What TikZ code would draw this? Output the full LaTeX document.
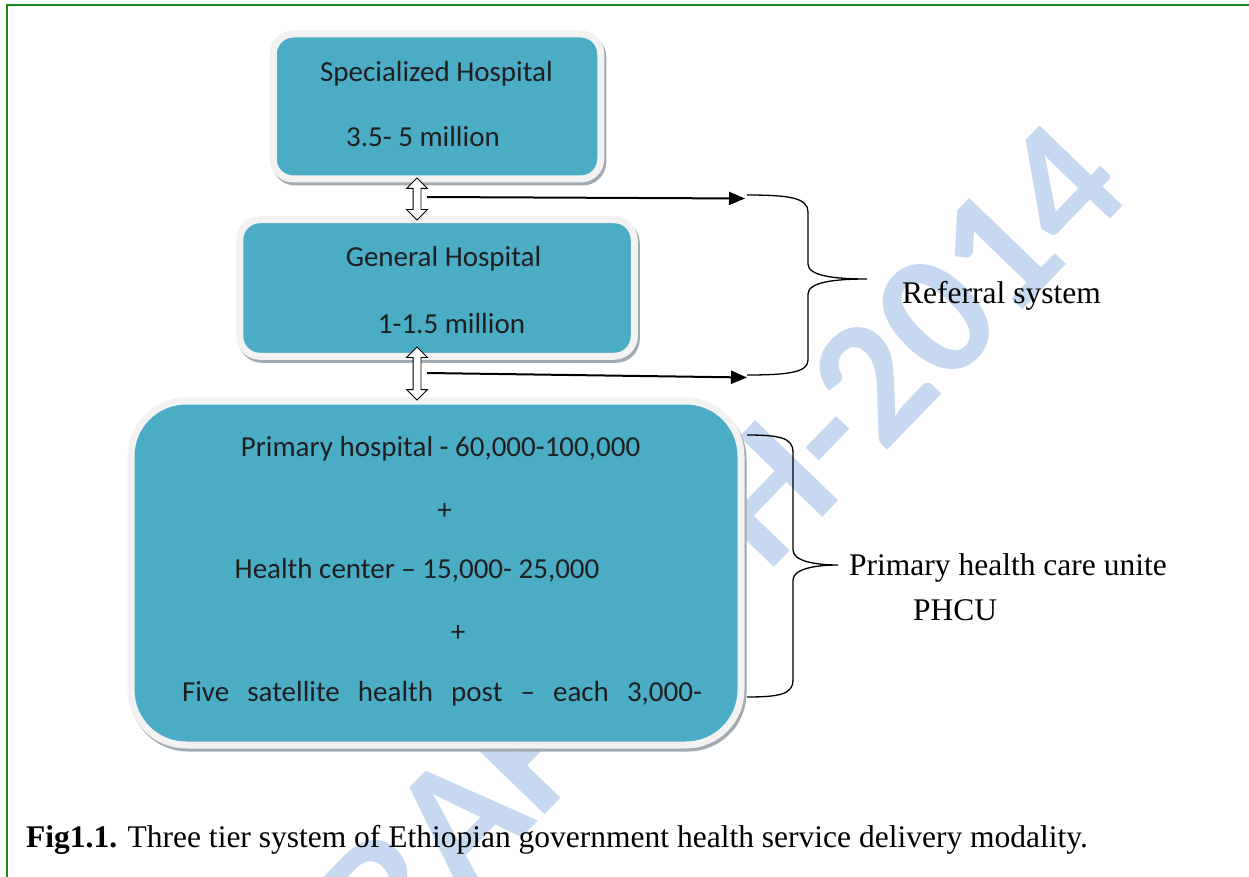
\documentclass[tikz,border=0pt]{standalone}
\usepackage{fontspec}
\setmainfont{Liberation Serif}
\newfontfamily\boxfont{Carlito}
\usepackage{tikz}
\usetikzlibrary{shapes.arrows,shadows,arrows.meta}

\definecolor{tierfill}{RGB}{75,172,198}
\definecolor{tierrim}{RGB}{242,242,242}
\definecolor{tiershade}{RGB}{160,170,176}
\definecolor{framegreen}{RGB}{24,138,24}
\definecolor{stamp}{RGB}{198,217,240}

\begin{document}
\begin{tikzpicture}[x=1pt, y=-1pt,
  tier/.style={draw=tierrim, line width=7pt, fill=tierfill, rounded corners=20pt,
    drop shadow={shadow xshift=2pt, shadow yshift=-3pt, opacity=1,
      fill=tiershade, draw=tiershade, line width=7pt}},
  tiertext/.style={font=\boxfont\fontsize{29}{35}\selectfont, text=black!88, inner sep=0pt},
  updown/.style={double arrow, draw=black, line width=0.8pt, fill=white,
    rotate=90, inner sep=3.5pt, double arrow head extend=6.5pt, minimum width=20pt},
  feed/.style={-{Triangle[length=16pt,width=13pt]}, line width=2pt},
  bracket/.style={line width=1.3pt},
  sidetext/.style={font=\fontsize{31.5}{38}\selectfont, inner sep=0pt},
  stamptext/.style={font=\boxfont\bfseries\fontsize{178}{178}\selectfont,
    text=stamp, inner sep=0pt, rotate=46}]

  \useasboundingbox (0,0) rectangle (1249,877);
  \fill[white] (0,0) rectangle (1249,877);
  \draw[framegreen, line width=2pt] (6.5,877) -- (6.5,5.5) -- (1249,5.5);

  % watermark
  \node[stamptext] (wmlow) at (445,835) {DRAFT};
  \node[stamptext] (wmhigh) at (869,386) {UH-2014};

  % the three tiers
  \node[tier, minimum width=327.5pt, minimum height=145pt] (spec) at (437,106.5) {};
  \node[tier, minimum width=394.5pt, minimum height=136.5pt] (gen) at (437,288) {};
  \node[tier, rounded corners=55pt, minimum width=610pt, minimum height=344pt] (phc) at (436,573) {};

  \node[tiertext, anchor=base] (spectitle) at (436.5,81.7) {Specialized Hospital};
  \node[tiertext, anchor=base] (specpop) at (423,146.7) {3.5- 5 million};
  \node[tiertext, anchor=base] (gentitle) at (443.5,266.7) {General Hospital};
  \node[tiertext, anchor=base] (genpop) at (451.5,333.3) {1-1.5 million};

  \node[tiertext, anchor=base] (primhosp) at (440.5,456.7) {Primary hospital - 60,000-100,000};
  \node[tiertext] (plusa) at (444.5,512) {+};
  \node[tiertext, anchor=base] (hcenter) at (417,578) {Health center – 15,000- 25,000};
  \node[tiertext] (plusb) at (458,634) {+};
  \node[tiertext, anchor=base] (hpost) at (442,701.7)
    {\makebox[520pt][s]{Five satellite health post – each 3,000-}};

  % referral arrows
  \node[updown, minimum height=42pt] (ud1) at (417,199) {};
  \node[updown, minimum height=53pt] (ud2) at (417,373.5) {};
  \coordinate (refin) at (745,198.5);
  \coordinate (refout) at (747,377.5);
  \draw[feed] ([xshift=10pt,yshift=2pt]ud1.center) -- (refin);
  \draw[feed] ([xshift=10pt,yshift=0.5pt]ud2.center) -- (refout);

  % braces
  \draw[bracket] (747,195) .. controls (790,195) and (808,198) .. (808,212)
    -- (808,264) .. controls (808,276) and (835,279) .. (867,279)
    .. controls (835,279) and (808,282) .. (808,294)
    -- (808,360) .. controls (808,372) and (790,375) .. (747,375);
  \draw[bracket] (747,435) .. controls (780,435) and (793,438) .. (793,452)
    -- (793,550) .. controls (793,561) and (815,565) .. (838,565)
    .. controls (815,565) and (793,569) .. (793,580)
    -- (793,680) .. controls (793,694) and (780,697) .. (747,697);

  \node[sidetext, anchor=base west] (refsys) at (902,303.3) {Referral system};
  \node[sidetext, anchor=base west] (phcname) at (849,575) {Primary health care unite};
  \node[sidetext, anchor=base west] (phcabbr) at (913,620) {PHCU};

  \node[sidetext, anchor=base west] (caption) at (26,847)
    {\textbf{Fig1.1.} Three tier system of Ethiopian government health service delivery modality.};

\end{tikzpicture}
\end{document}
